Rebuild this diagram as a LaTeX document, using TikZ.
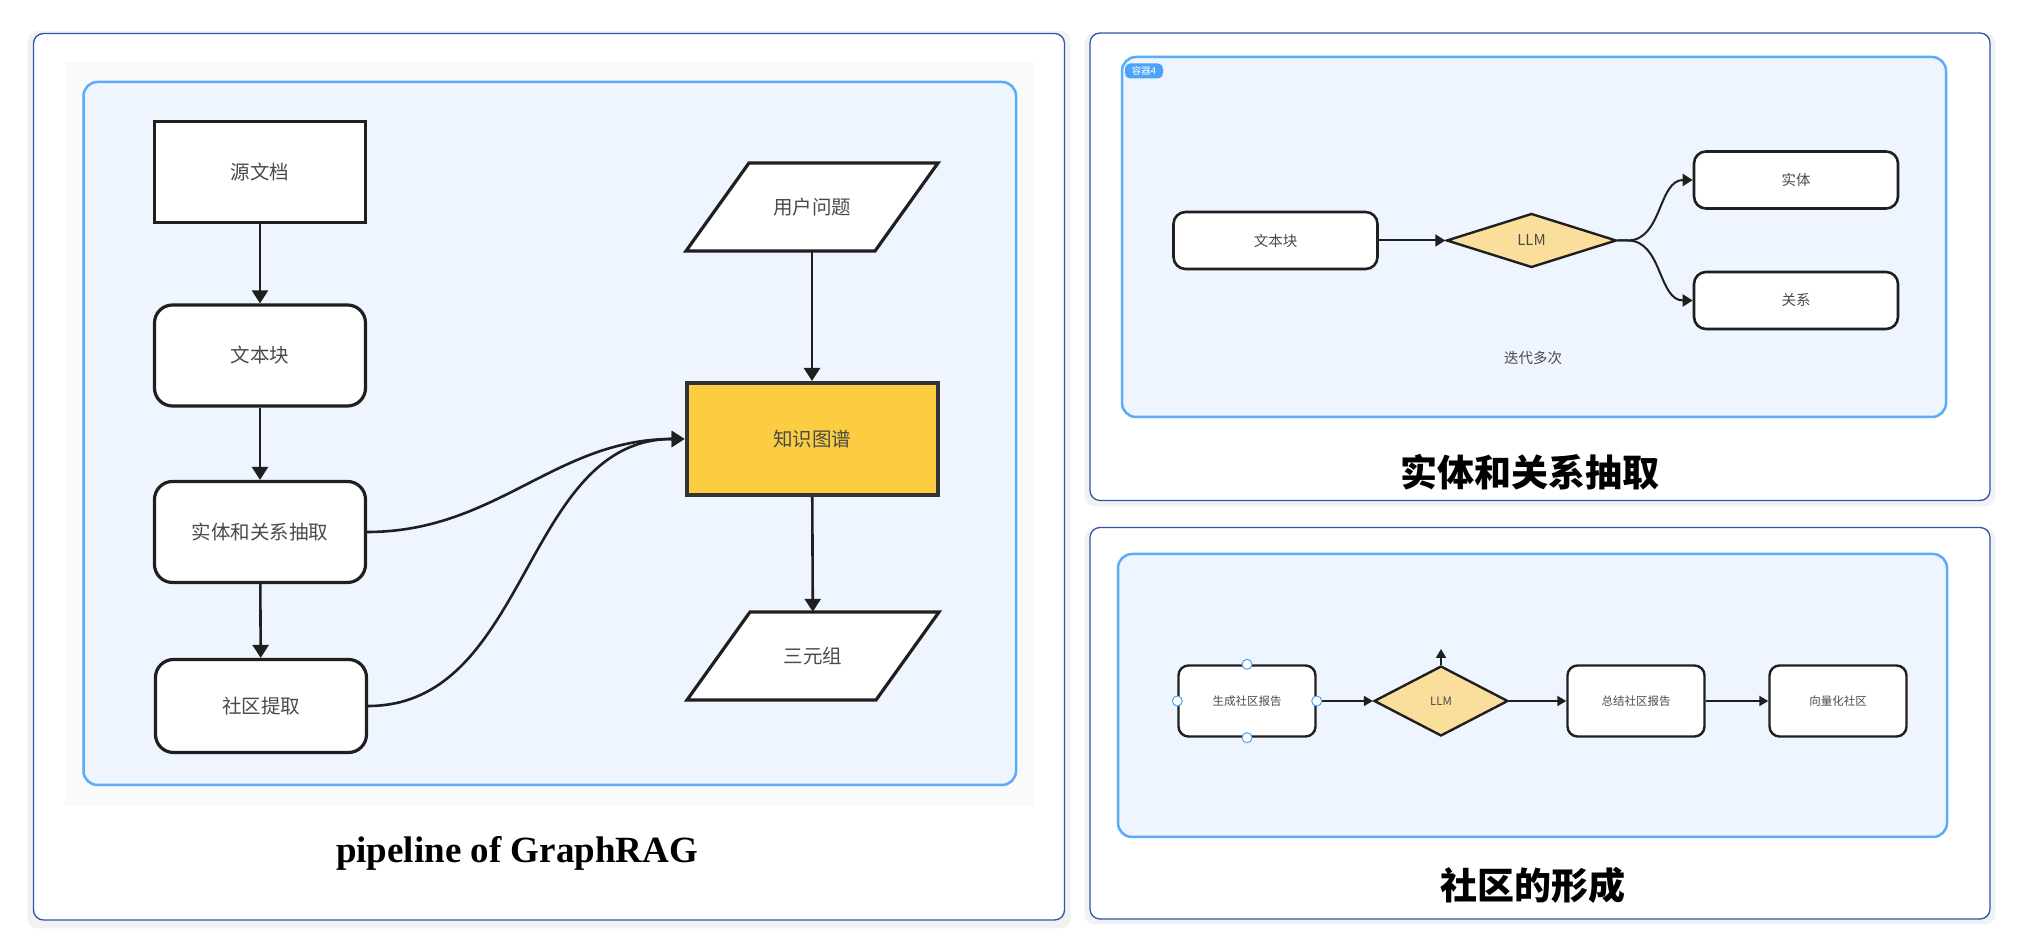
\documentclass[tikz,border=0pt]{standalone}
\usepackage{fontspec}
\usepackage{tikz}
\usetikzlibrary{arrows.meta}
\usetikzlibrary{shapes.geometric}
\usetikzlibrary{shadows}
\setmainfont{Liberation Serif}
\newfontfamily\cjk{Noto Sans CJK SC}
\definecolor{panelblue}{HTML}{2F55A4}
\definecolor{boxblue}{HTML}{5AACF8}
\definecolor{paleblue}{HTML}{EEF5FF}
\definecolor{kgyellow}{HTML}{FCCD40}
\definecolor{llmorange}{HTML}{FADE9C}
\definecolor{tagblue}{HTML}{4DA3F7}
\definecolor{txtgray}{HTML}{4A4A4A}
\colorlet{linegray}{black!88}

\begin{document}
\begin{tikzpicture}[x=1pt,y=1pt,
  panel/.style={draw=panelblue,line width=1.3pt,fill=white,rounded corners=10pt,
    drop shadow={shadow xshift=0pt,shadow yshift=-3pt,opacity=0.1,shadow scale=1.012}},
  container/.style={draw=boxblue,line width=2.5pt,fill=paleblue,rounded corners=14pt},
  bigbox/.style={draw=linegray,line width=3.2pt,fill=white,minimum width=211pt,minimum height=101pt,
    text=txtgray,font=\cjk\fontsize{19.5}{22}\selectfont},
  midbox/.style={draw=linegray,line width=2.6pt,fill=white,rounded corners=12pt,minimum width=204pt,
    minimum height=57pt,text=txtgray,font=\cjk\fontsize{14.5}{16}\selectfont},
  smallbox/.style={draw=linegray,line width=2.4pt,fill=white,rounded corners=10pt,minimum width=137pt,
    minimum height=71pt,text=txtgray,font=\cjk\fontsize{11.5}{13}\selectfont},
  llm/.style={diamond,draw=linegray,line width=2.4pt,fill=llmorange,inner sep=0pt,text=txtgray},
  arr/.style={line width=2.6pt,draw=linegray,-{Triangle[length=13pt,width=16pt]}},
  arrm/.style={line width=2pt,draw=linegray,-{Triangle[length=10pt,width=12pt]}},
  arrs/.style={line width=1.8pt,draw=linegray,-{Triangle[length=9pt,width=10pt]}}]
\useasboundingbox (0,0) rectangle (2017,941);
\fill[white] (0,0) rectangle (2017,941);

\draw[panel] (33.5,21) rectangle (1064.5,907.5);
\fill[black!2] (65,135) rectangle (1034,879);
\draw[container] (83.5,156) rectangle (1016,859);
\draw[panel] (1090,440.5) rectangle (1990,908);
\draw[container] (1122,524) rectangle (1946,884);
\draw[panel] (1090,22) rectangle (1990,413.5);
\draw[container] (1118,104) rectangle (1947,387);

\node[bigbox] (src) at (260,769) {源文档};
\node[bigbox,rounded corners=18pt] (chunk) at (260,585.5) {文本块};
\node[bigbox,rounded corners=18pt] (extract) at (260,409) {实体和关系抽取};
\node[bigbox,rounded corners=18pt,minimum height=93pt] (comm) at (261,235) {社区提取};
\node[bigbox,fill=kgyellow,draw=black!80,line width=4pt,minimum width=251pt,minimum height=112pt] (kg) at (812,502) {知识图谱};
\foreach \n/\x/\y/\t in {query/812/734/用户问题, triple/813/285/三元组} {
  \draw[draw=linegray,line width=3.2pt,fill=white] (\x-126,\y-44) -- (\x+63,\y-44) -- (\x+126,\y+44) -- (\x-63,\y+44) -- cycle;
  \node[text=txtgray,font=\cjk\fontsize{19.5}{22}\selectfont,minimum width=252pt,minimum height=88pt] (\n) at (\x,\y) {\t};
}
\draw[arr] (src) -- (chunk);
\draw[arr] (chunk) -- (extract);
\draw[arr] (extract) -- (comm);
\draw[arr] (query) -- (kg);
\draw[arr] (kg) -- (triple);
\draw[arr] (extract.east) to[out=0,in=180] (kg.west);
\draw[arr] (comm.east) to[out=0,in=180] (kg.west);
\node[font=\bfseries\fontsize{37}{40}\selectfont] (cap1) at (517,88) {pipeline of GraphRAG};

\node[fill=tagblue,text=white,rounded corners=5pt,minimum width=38pt,minimum height=15pt,inner sep=0pt,
  font=\cjk\fontsize{9.5}{10}\selectfont] (tag) at (1144,870) {容器4};
\node[midbox] (chunk2) at (1275.5,700.5) {文本块};
\node[llm,minimum width=170pt,minimum height=54pt,font=\cjk\fontsize{15}{16}\selectfont] (llm1) at (1531.5,700.5) {LLM};
\node[midbox] (ent) at (1796,761) {实体};
\node[midbox] (rel) at (1796,640.5) {关系};
\node[text=txtgray,font=\cjk\fontsize{14.5}{16}\selectfont] (iter) at (1533,583) {迭代多次};
\draw[arrm] (chunk2) -- (llm1);
\draw[arrm] (llm1.east) -- ++(10,0) to[out=0,in=180] (ent.west);
\draw[arrm] (llm1.east) -- ++(10,0) to[out=0,in=180] (rel.west);
\node[font=\cjk\bfseries\fontsize{37}{40}\selectfont] (cap2) at (1530,469) {实体和关系抽取};

\node[smallbox] (gen) at (1247,240) {生成社区报告};
\node[llm,minimum width=134pt,minimum height=70pt,font=\cjk\fontsize{11.5}{13}\selectfont] (llm2) at (1441,240) {LLM};
\node[smallbox] (summ) at (1636,240) {总结社区报告};
\node[smallbox] (vec) at (1838,240) {向量化社区};
\coordinate (up) at (1441,292);
\draw[arrs] (llm2.north) -- (up);
\draw[arrs] (gen) -- (llm2);
\draw[arrs] (llm2) -- (summ);
\draw[arrs] (summ) -- (vec);
\foreach \a in {north,south,west,east}
  \draw[draw=tagblue,fill=white,line width=1pt] (gen.\a) circle (5pt);
\node[font=\cjk\bfseries\fontsize{37}{40}\selectfont] (cap3) at (1533,56) {社区的形成};
\end{tikzpicture}
\end{document}
